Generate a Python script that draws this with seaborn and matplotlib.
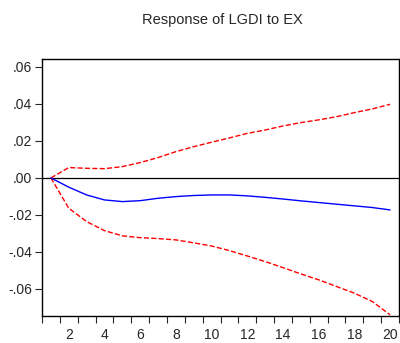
import seaborn as sns
import matplotlib.pyplot as plt
import matplotlib.ticker as mticker
import pandas as pd

sns.set_style('white')
plt.rcParams['font.family'] = ['Liberation Sans', 'DejaVu Sans']

# impulse response and +/- 2 s.e. bands
period = list(range(1, 21))
response = [0.0, -0.0050, -0.0092, -0.0119, -0.0128, -0.0123, -0.0110, -0.0101, -0.0095, -0.0092,
            -0.0092, -0.0097, -0.0105, -0.0114, -0.0124, -0.0133, -0.0142, -0.0151, -0.0160, -0.0173]
upper = [0.0, 0.0056, 0.0052, 0.0050, 0.0061, 0.0083, 0.0110, 0.0142, 0.0169, 0.0193,
         0.0216, 0.0241, 0.0259, 0.0281, 0.0299, 0.0314, 0.0331, 0.0353, 0.0373, 0.0398]
lower = [0.0, -0.0164, -0.0236, -0.0285, -0.0313, -0.0323, -0.0328, -0.0335, -0.0351, -0.0368,
         -0.0393, -0.0422, -0.0452, -0.0485, -0.0519, -0.0551, -0.0587, -0.0623, -0.0668, -0.0740]

df = pd.DataFrame({'Period': period, 'Response': response, 'Upper': upper, 'Lower': lower})

fig = plt.figure(figsize=(4.0, 3.43), dpi=100)
ax = fig.add_axes([0.105, 0.079, 0.8925, 0.749])

ax.axhline(0, color='black', linewidth=0.9)
sns.lineplot(x='Period', y='Upper', data=df, ax=ax, color='red', linestyle='--', linewidth=1)
sns.lineplot(x='Period', y='Lower', data=df, ax=ax, color='red', linestyle='--', linewidth=1)
sns.lineplot(x='Period', y='Response', data=df, ax=ax, color='blue', linewidth=1)

ax.set_xlim(0.5, 20.5)
ax.set_ylim(-0.0746, 0.0643)
ax.set_xticks(range(2, 21, 2))
ax.set_xticks([i + 0.5 for i in range(0, 21)], minor=True)
ax.tick_params(axis='x', which='major', length=0, labelsize=10, pad=9)
ax.tick_params(axis='x', which='minor', length=5, width=0.8, direction='out', bottom=True)
ax.set_yticks([-0.06, -0.04, -0.02, 0.0, 0.02, 0.04, 0.06])
ax.yaxis.set_major_formatter(mticker.FuncFormatter(lambda v, p: ('%.2f' % v).replace('0.', '.')))
ax.tick_params(axis='y', length=5, width=0.8, direction='out', left=True, labelsize=10, pad=2)
for s in ax.spines.values():
    s.set_color('black')
    s.set_linewidth(1.0)

ax.set_xlabel('')
ax.set_ylabel('')
fig.text(0.555, 0.942, 'Response of LGDI to EX', ha='center', va='center', fontsize=10.5)

plt.savefig('out.png', dpi=100)
